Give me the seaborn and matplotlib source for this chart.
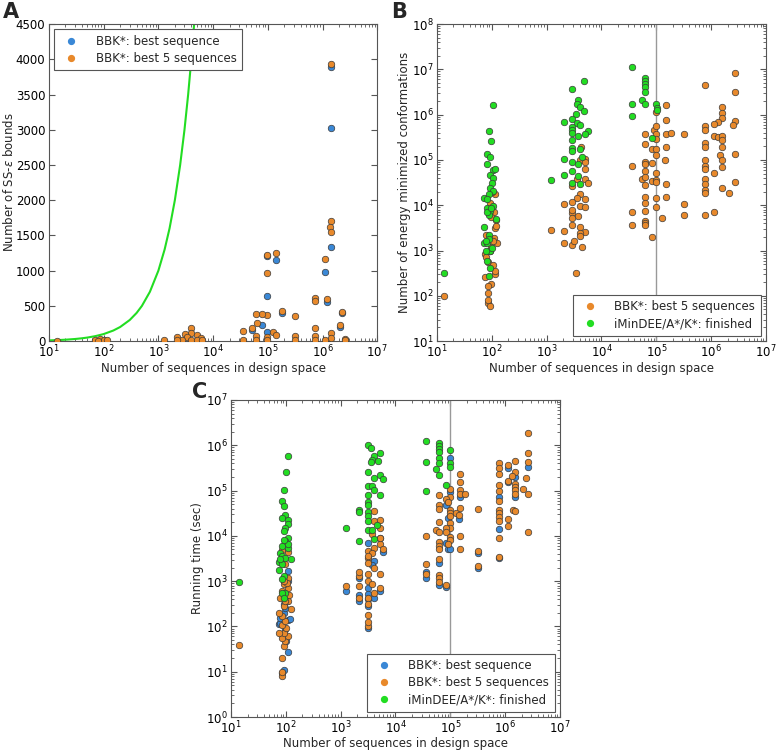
"""
plot.py — BBK* vs iMinDEE/A*/K*: bounds, energy minimizations and running time
versus the size of the design space (panels A, B, C).
"""

import numpy as np
import pandas as pd
import matplotlib
matplotlib.use("Agg")
import matplotlib.pyplot as plt
from matplotlib.lines import Line2D
import seaborn as sns

BLUE = "#3a88d6"
ORANGE = "#e8892b"
GREEN = "#22dd22"

# ---- Panel A: number of SS-eps bounds (x as log10, y linear) ----
a_best_x = [6.16, 6.16, 6.16, 6.05, 6.09, 4.98, 5.15, 4.98, 5.26, 6.36, 6.32, 4.89, 4.98, 4.72]
a_best_y = [3898, 3027, 1331, 985, 559, 1208, 1151, 640, 403, 393, 204, 227, 133, 156]

a_best5_x = [6.16, 6.16, 6.13, 6.16, 6.05, 6.09, 5.86, 5.86, 4.98, 5.15, 4.98, 5.26, 5.49,
             6.36, 6.32, 4.98, 4.90, 4.80, 4.78, 4.72, 4.54, 5.09, 4.99, 5.15, 5.49, 5.86,
             5.86, 6.16, 6.16, 6.42, 6.05, 4.54, 4.78, 4.78, 4.98, 5.49, 5.86, 6.42,
             3.60, 3.60, 3.49, 3.70, 3.53, 3.34, 3.77, 3.60, 3.44, 3.10, 3.34, 3.70, 3.80,
             1.85, 1.94, 2.00, 2.06, 1.89, 1.15]
a_best5_y = [3932, 1705, 1625, 1544, 1165, 592, 616, 568, 1222, 1255, 962, 426, 360,
             407, 227, 369, 379, 251, 379, 180, 142, 133, 62, 85, 71, 180,
             71, 109, 47, 28, 14, 14, 71, 14, 14, 14, 14, 14,
             180, 109, 95, 85, 62, 62, 38, 14, 14, 14, 14, 14, 14,
             14, 24, 14, 14, 5, 5]

# exhaustive search: one bound per sequence
a_exh_x = [10, 15, 20, 30, 40, 50, 70, 100, 150, 200, 300, 400, 500, 700, 1000,
           1300, 1600, 2000, 2500, 3000, 3500, 4000, 4500]
a_exh_y = [10, 15, 20, 30, 40, 50, 70, 100, 150, 200, 300, 400, 500, 700, 1000,
           1300, 1600, 2000, 2500, 3000, 3500, 4000, 4500]

# ---- Panel B: energy minimized conformations (log10 x, log10 y) ----
b_best5_x = [1.13,
             2.06, 2.01, 2.07, 2.06, 2.04, 2.10, 1.99, 1.87, 1.93, 2.02, 2.05, 1.87, 1.98,
             1.93, 1.93, 1.93, 1.96, 1.96, 2.04, 1.99, 2.08, 1.90, 2.02, 1.96, 2.06, 1.90,
             2.00, 1.93,
             3.62, 3.70, 3.60, 3.70, 3.70, 3.70, 3.55, 3.76, 3.47, 3.60, 3.55, 3.70, 3.47,
             3.32, 3.60, 3.70, 3.47, 3.58, 3.47, 3.47, 3.60, 3.32, 3.70, 3.60, 3.60, 3.32,
             3.47, 3.65, 3.54, 3.08, 3.50, 3.47,
             5.00, 5.18, 5.18, 4.96, 5.00, 5.00, 5.00, 4.80, 5.18, 5.27, 5.51, 4.80, 4.92,
             5.00, 5.00, 5.18, 5.15, 4.80, 4.80, 4.56, 4.92, 4.80, 4.74, 4.80, 4.80, 4.92,
             5.00, 5.00, 5.00, 5.18, 4.80, 5.00, 5.18, 4.80, 5.00, 4.80, 4.56, 5.51, 5.51,
             5.10, 4.56, 4.80, 4.80, 4.80, 4.92,
             5.88, 6.44, 6.44, 6.19, 6.19, 6.19, 6.13, 6.06, 5.88, 5.88, 6.44, 6.39, 6.06,
             6.13, 6.19, 6.19, 5.88, 5.88, 6.19, 6.44, 6.16, 6.19, 5.88, 5.88, 5.88, 6.19,
             6.06, 5.88, 5.88, 6.44, 5.88, 5.88, 6.19, 6.33, 5.88, 6.06]
b_best5_y = [2.00,
             4.24, 3.98, 3.68, 3.49, 3.27, 3.16, 3.08, 2.93, 2.75, 2.67, 2.49, 2.41, 2.26,
             2.22, 2.07, 1.85, 1.78, 4.05, 3.85, 3.75, 3.55, 3.35, 3.22, 3.00, 2.55, 2.85,
             4.30, 1.90,
             5.28, 5.02, 4.99, 4.95, 4.81, 4.59, 4.57, 4.50, 4.43, 4.24, 4.16, 4.13, 4.07,
             4.02, 3.98, 3.96, 3.83, 3.77, 3.72, 3.57, 3.53, 3.44, 3.42, 3.38, 3.31, 3.16,
             3.12, 3.07, 2.51, 3.46, 3.20, 3.90,
             6.06, 6.21, 5.89, 5.66, 5.74, 5.57, 5.46, 5.57, 5.57, 5.60, 5.57, 5.36, 5.24,
             5.24, 5.10, 5.29, 5.01, 4.96, 4.90, 4.87, 4.94, 4.75, 4.57, 4.63, 4.45, 4.54,
             4.72, 4.56, 4.51, 4.46, 4.18, 4.15, 4.19, 4.04, 3.97, 3.88, 3.84, 4.02, 3.79,
             3.71, 3.57, 3.65, 3.60, 3.56, 3.30,
             6.65, 6.93, 6.51, 6.18, 6.03, 5.93, 5.84, 5.80, 5.74, 5.66, 5.85, 5.77, 5.54,
             5.51, 5.53, 5.43, 5.37, 5.29, 5.29, 5.13, 5.12, 5.00, 5.01, 4.87, 4.79, 4.85,
             4.72, 4.57, 4.46, 4.51, 4.34, 4.28, 4.37, 4.28, 3.79, 3.85]

b_fin_x = [1.13,
           2.03, 1.94, 1.99, 1.92, 1.97, 1.92, 2.03, 1.96, 2.03, 2.00, 1.97, 2.02, 1.94,
           1.85, 1.91, 2.02, 1.92, 1.97, 1.94, 2.07, 1.85, 1.94, 1.85, 1.91, 1.97, 1.92,
           1.97, 1.95, 1.95, 2.00, 1.92, 1.99, 1.89, 2.05, 1.90,
           3.69, 3.47, 3.58, 3.55, 3.60, 3.69, 3.53, 3.46, 3.32, 3.55, 3.60, 3.47, 3.47,
           3.76, 3.47, 3.70, 3.58, 3.47, 3.47, 3.60, 3.47, 3.65, 3.32, 3.47, 3.58, 3.47,
           3.32, 3.58, 3.08, 3.60, 3.47,
           4.56, 4.80, 4.80, 4.80, 4.80, 4.80, 4.74, 4.56, 4.80, 4.56, 5.00, 5.01, 5.01,
           4.92]
b_fin_y = [2.50,
           6.22, 5.64, 5.41, 5.13, 5.06, 4.90, 4.78, 4.66, 4.61, 4.50, 4.39, 4.31, 4.24,
           4.16, 4.14, 3.98, 3.94, 3.87, 3.79, 3.69, 3.53, 3.34, 3.17, 3.16, 3.00, 2.77,
           2.62, 2.43, 3.25, 3.05, 3.85, 3.95, 3.00, 4.80, 3.20,
           6.74, 6.57, 6.33, 6.24, 6.16, 6.08, 6.01, 5.90, 5.84, 5.82, 5.78, 5.73, 5.66,
           5.64, 5.60, 5.57, 5.54, 5.43, 5.26, 5.25, 5.19, 5.06, 5.02, 4.95, 4.91, 4.76,
           4.66, 4.65, 4.55, 4.46, 4.50,
           7.06, 6.82, 6.74, 6.67, 6.60, 6.50, 6.32, 6.24, 6.24, 5.97, 6.24, 6.15, 6.10,
           5.49]

# ---- Panel C: running time in seconds (log10 x, log10 y) ----
c_best_x = [1.96, 2.04, 2.04, 1.96, 1.87, 1.90, 1.96, 2.04, 2.04, 1.99, 2.01, 2.08, 2.02,
            1.93, 1.90, 1.99,
            3.09, 3.34, 3.50, 3.61, 3.72, 3.50, 3.61, 3.78, 3.57, 3.50, 3.72, 3.34, 3.50,
            3.34, 3.50, 3.50,
            5.00, 5.00, 4.92, 4.96, 4.92, 4.96, 4.80, 4.55, 4.55, 4.92, 4.80, 5.18, 5.15,
            5.88, 6.06, 6.18, 6.42, 6.06, 5.50, 5.50, 5.00, 5.88, 5.88, 6.18]
c_best_y = [1.04, 1.43, 2.15, 2.30, 2.06, 2.08, 2.49, 3.01, 3.22, 1.94, 1.68, 2.17, 2.56,
            0.97, 2.18, 2.40,
            2.78, 2.57, 2.45, 2.62, 2.79, 1.96, 3.44, 3.64, 3.35, 3.85, 3.96, 3.07, 2.85,
            2.70, 2.72, 2.60,
            5.72, 4.97, 4.68, 4.40, 3.85, 3.70, 3.40, 3.21, 3.08, 2.86, 2.91, 4.86, 4.38,
            4.86, 5.50, 4.85, 5.52, 5.19, 3.28, 3.62, 3.72, 3.52, 4.15, 5.30]

c_best5_x = [1.15,
             1.93, 1.93, 1.96, 1.99, 1.93, 2.04, 1.96, 1.87, 2.01, 1.93, 1.99, 2.09, 1.93,
             1.87, 1.96, 2.04, 1.99, 1.93, 2.04, 1.96, 2.04, 1.93, 1.99, 2.04, 1.90, 1.99,
             1.93, 2.02, 1.97, 2.05,
             3.61, 3.61, 3.72, 3.72, 3.57, 3.72, 3.78, 3.61, 3.50, 3.57, 3.50, 3.50, 3.61,
             3.50, 3.72, 3.34, 3.50, 3.57, 3.34, 3.09, 3.34, 3.50, 3.50, 3.50, 3.50, 3.61,
             3.72, 3.34, 3.50, 3.50, 3.72,
             5.00, 5.00, 4.92, 4.96, 4.80, 4.80, 4.80, 5.00, 5.00, 5.00, 5.11, 5.00, 5.00,
             4.92, 4.80, 4.74, 4.80, 4.92, 5.00, 5.00, 4.96, 4.80, 4.80, 4.80, 4.55, 4.80,
             4.55, 4.55, 4.80, 4.80, 4.80, 4.92, 5.18, 5.18, 5.18, 5.18, 5.27, 5.18, 5.15,
             5.18, 5.18, 5.50, 5.50, 5.50,
             5.88, 5.88, 5.88, 5.88, 5.88, 5.88, 5.88, 5.88, 5.88, 5.88, 5.88, 5.88, 6.06,
             6.06, 6.06, 6.06, 6.18, 6.18, 6.12, 6.18, 6.18, 6.18, 6.18, 6.15, 6.18, 6.33,
             6.38, 6.42, 6.42, 6.42, 6.42, 6.42]
c_best5_y = [1.60,
             0.90, 1.31, 1.57, 1.68, 1.75, 1.79, 1.86, 1.86, 1.97, 2.04, 2.12, 2.38, 2.23,
             2.30, 2.45, 2.56, 2.67, 2.78, 2.85, 2.94, 3.64, 3.68, 3.37, 3.07, 2.63, 2.56,
             1.00, 2.95, 3.00, 2.70,
             4.54, 4.32, 4.36, 4.18, 4.03, 3.81, 3.70, 3.74, 3.66, 3.63, 3.51, 3.40, 3.29,
             3.15, 3.15, 3.11, 3.00, 2.94, 2.89, 2.89, 2.63, 2.63, 2.49, 2.26, 2.00, 2.74,
             2.85, 3.20, 3.55, 2.10, 3.95,
             5.04, 4.86, 4.82, 4.75, 4.90, 4.68, 4.60, 4.58, 4.51, 4.43, 4.51, 4.29, 4.18,
             4.18, 4.31, 4.14, 4.09, 4.09, 3.98, 3.90, 3.82, 3.87, 3.77, 3.70, 3.99, 3.50,
             3.38, 3.16, 3.13, 3.06, 2.99, 2.91, 5.36, 5.19, 5.01, 4.92, 4.93, 4.62, 4.46,
             3.99, 3.72, 4.60, 3.66, 3.34,
             5.60, 5.49, 5.36, 5.13, 4.99, 4.76, 4.58, 4.51, 4.42, 4.33, 3.96, 3.54, 5.57,
             5.21, 4.38, 4.21, 5.65, 5.41, 5.32, 5.15, 5.08, 5.01, 4.93, 4.58, 4.55, 5.03,
             5.27, 6.27, 5.82, 5.63, 4.93, 4.09]

c_fin_x = [1.15,
           2.04, 2.01, 1.96, 1.93, 1.96, 1.99, 1.93, 2.04, 2.04, 1.99, 1.96, 2.04, 1.99,
           1.93, 2.04, 1.90, 1.93, 1.87, 1.93, 1.99, 1.87, 1.96, 1.93, 1.99, 1.93, 1.96,
           2.04, 2.09, 1.90, 1.96,
           3.50, 3.55, 3.61, 3.57, 3.68, 3.72, 3.55, 3.50, 3.61, 3.72, 3.78, 3.50, 3.57,
           3.61, 3.72, 3.50, 3.50, 3.50, 3.34, 3.34, 3.50, 3.50, 3.50, 3.67, 3.50, 3.09,
           3.34, 3.61, 3.57,
           4.55, 4.55, 4.55, 4.80, 4.80, 4.80, 4.80, 4.80, 4.80, 4.74, 4.80, 4.92, 5.00,
           5.00, 4.99]
c_fin_y = [2.98,
           5.77, 5.40, 5.01, 4.78, 4.65, 4.47, 4.40, 4.36, 4.26, 4.18, 4.10, 3.96, 3.88,
           3.77, 3.74, 3.63, 3.55, 3.43, 3.37, 3.51, 3.24, 3.11, 3.04, 2.74, 2.74, 2.63,
           3.81, 3.48, 3.50, 3.90,
           6.00, 5.94, 5.76, 5.68, 5.66, 5.83, 5.63, 5.41, 5.28, 5.35, 5.26, 5.10, 5.10,
           5.02, 4.90, 4.90, 4.75, 4.69, 4.58, 4.52, 4.53, 4.43, 4.32, 4.25, 4.12, 4.18,
           3.88, 3.92, 4.12,
           6.10, 5.63, 5.00, 6.04, 5.98, 5.91, 5.85, 5.71, 5.61, 5.47, 5.34, 5.13, 5.90,
           5.60, 5.51]

XLABEL = "Number of sequences in design space"
LBL_BEST = "BBK*: best sequence"
LBL_BEST5 = "BBK*: best 5 sequences"
LBL_FIN = "iMinDEE/A*/K*: finished"

sns.set_style("ticks")
plt.rcParams["font.family"] = ["DejaVu Sans"]
plt.rcParams.update({
    "font.size": 8.5,
    "axes.edgecolor": "#555555",
    "axes.linewidth": 0.8,
    "xtick.direction": "in",
    "ytick.direction": "in",
    "xtick.top": True,
    "ytick.right": True,
    "xtick.color": "#555555",
    "ytick.color": "#555555",
    "xtick.labelcolor": "black",
    "ytick.labelcolor": "black",
    "xtick.labelsize": 8.5,
    "ytick.labelsize": 8.5,
    "xtick.major.size": 4,
    "ytick.major.size": 4,
    "xtick.minor.size": 2,
    "ytick.minor.size": 2,
    "xtick.major.pad": 2.0,
    "ytick.major.pad": 2.5,
})


def dots(ax, xs, ys, color, log_y=True):
    df = pd.DataFrame({"x": 10.0 ** np.array(xs),
                       "y": 10.0 ** np.array(ys) if log_y else np.array(ys, dtype=float)})
    sns.scatterplot(data=df, x="x", y="y", color=color, s=22,
                    edgecolor="#3a3a3a", linewidth=0.5, ax=ax, zorder=3)


def legend(ax, items, loc):
    handles = [Line2D([], [], marker="o", linestyle="", markersize=4.2,
                      markerfacecolor=c, markeredgecolor=c) for c, _ in items]
    leg = ax.legend(handles, [t for _, t in items], loc=loc, fancybox=False,
                    framealpha=1, edgecolor="#555555", fontsize=8.5,
                    handlelength=2.0, handletextpad=1.1, borderpad=0.45,
                    labelspacing=0.35, borderaxespad=0.45)
    leg.get_frame().set_linewidth(0.8)


def base(ax, ylabel, ylab_x, xlab_y=-0.066):
    ax.set_xscale("log")
    ax.set_xlim(10, 1e7)
    ax.set_xlabel(XLABEL)
    ax.set_ylabel(ylabel)
    ax.xaxis.set_label_coords(0.5, xlab_y)
    ax.yaxis.set_label_coords(ylab_x, 0.5)


fig = plt.figure(figsize=(7.77, 7.53), dpi=100)
axA = fig.add_axes([0.063, 0.547, 0.4225, 0.421])
axB = fig.add_axes([0.5624, 0.547, 0.4234, 0.421])
axC = fig.add_axes([0.2973, 0.0478, 0.4234, 0.421])

# A
axA.plot(a_exh_x, a_exh_y, color=GREEN, lw=1.5, zorder=2)
dots(axA, a_best_x, a_best_y, BLUE, log_y=False)
dots(axA, a_best5_x, a_best5_y, ORANGE, log_y=False)
base(axA, "Number of SS-$\\epsilon$ bounds", -0.100)
axA.set_ylim(0, 4500)
axA.set_yticks(range(0, 4501, 500))
legend(axA, [(BLUE, LBL_BEST), (ORANGE, LBL_BEST5)], "upper left")

# B
axB.axvline(1e5, color="#999999", lw=1, zorder=1)
dots(axB, b_best5_x, b_best5_y, ORANGE)
dots(axB, b_fin_x, b_fin_y, GREEN)
base(axB, "Number of energy minimized conformations", -0.079)
axB.set_yscale("log")
axB.set_ylim(10, 1e8)
legend(axB, [(ORANGE, LBL_BEST5), (GREEN, LBL_FIN)], "lower right")

# C
axC.axvline(1e5, color="#999999", lw=1, zorder=1)
dots(axC, c_best_x, c_best_y, BLUE)
dots(axC, c_best5_x, c_best5_y, ORANGE)
dots(axC, c_fin_x, c_fin_y, GREEN)
base(axC, "Running time (sec)", -0.082, xlab_y=-0.062)
axC.set_yscale("log")
axC.set_ylim(1, 1e7)
legend(axC, [(BLUE, LBL_BEST), (ORANGE, LBL_BEST5), (GREEN, LBL_FIN)], "lower right")

for ax in (axA, axB, axC):
    for sp in ax.spines.values():
        sp.set_visible(True)

fig.text(0.004, 0.997, "A", fontsize=15, weight="bold", va="top")
fig.text(0.503, 0.997, "B", fontsize=15, weight="bold", va="top")
fig.text(0.247, 0.493, "C", fontsize=15, weight="bold", va="top")

fig.savefig("out.png", dpi=100)
